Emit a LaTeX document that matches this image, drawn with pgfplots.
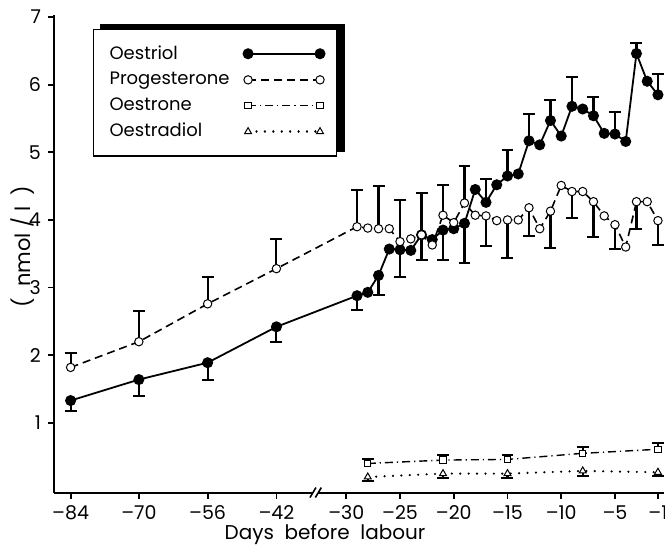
\documentclass[border=0pt]{standalone}
\usepackage{fontspec}
\setmainfont{Poppins}
\usepackage{pgfplots}
\pgfplotsset{compat=1.18}
\usetikzlibrary{calc,backgrounds}

% x is drawn on a broken axis: right part in days, left part compressed
% (-84 -> -55.65, -70 -> -49.3, -56 -> -42.9, -42 -> -36.5)
\pgfplotsset{
  ebar/.style={draw=none, mark=none, forget plot,
    error bars/.cd, y dir=#1, y explicit, error mark=|,
    error bar style={draw=black, solid, line width=1.05pt},
    error mark options={draw=black, solid, line width=1pt, mark size=3pt}},
}

\begin{document}
\begin{tikzpicture}
\begin{axis}[
  name=ax,
  scale only axis, width=305.5pt, height=239pt,
  xmin=-57.2, xmax=-0.4, ymin=-0.03, ymax=7.03,
  axis x line*=bottom, axis y line*=left,
  x axis line style={draw=none},
  y axis line style={line width=1pt},
  clip=false,
  xtick={-55.65,-49.3,-42.9,-36.5,-30,-25,-20,-15,-10,-5,-1},
  xticklabels={--84,--70,--56,--42,--30,--25,--20,--15,--10,--5,--1},
  ytick={1,2,3,4,5,6,7},
  /pgf/number format/assume math mode=true,
  tick align=outside, major tick length=3pt,
  tick style={black, line width=0.9pt},
  tick label style={font=\fontsize{9.5}{11}\selectfont},
  xlabel={Days\ \ before\ \ labour},
  ylabel={(\ \ nmol\ /\ l\ \ )},
  every axis x label/.style={at={(axis description cs:0.444,-0.088)}, anchor=center,
    font=\fontsize{10}{12}\selectfont},
  every axis y label/.style={at={(axis description cs:-0.052,0.515)}, rotate=90,
    anchor=center, font=\fontsize{10.5}{12}\selectfont},
  legend plot pos=right,
  legend cell align=left,
  legend image code/.code={\draw[#1] plot coordinates {(0pt,0pt) (36pt,0pt)};},
  legend style={name=leg, at={(axis description cs:0.064,0.971)}, anchor=north west,
    draw=black, line width=0.6pt, fill=white,
    font=\fontsize{9}{11}\selectfont,
    row sep=1pt, column sep=5pt, inner xsep=6pt, inner ysep=6pt},
]

% error bars: oestriol
\addplot[ebar=minus] coordinates {
  (-55.65,1.33) +- (0,0.16) (-49.3,1.64) +- (0,0.25) (-42.9,1.89) +- (0,0.26)
  (-36.5,2.42) +- (0,0.23) (-29,2.88) +- (0,0.21) (-27,3.18) +- (0,0.29)
  (-25,3.56) +- (0,0.41) (-23,3.78) +- (0,0.37) (-21,3.85) +- (0,0.44)
  (-19,3.95) +- (0,0.58)};
\addplot[ebar=plus] coordinates {
  (-17,4.26) +- (0,0.34) (-15,4.65) +- (0,0.38) (-13,5.17) +- (0,0.40)
  (-11,5.47) +- (0,0.30) (-9,5.68) +- (0,0.43) (-7,5.54) +- (0,0.28)
  (-5,5.27) +- (0,0.32) (-3,6.46) +- (0,0.16) (-1,5.85) +- (0,0.31)};
% error bars: progesterone
\addplot[ebar=plus] coordinates {
  (-55.65,1.82) +- (0,0.22) (-49.3,2.20) +- (0,0.46) (-42.9,2.76) +- (0,0.40)
  (-36.5,3.28) +- (0,0.44) (-29,3.90) +- (0,0.55) (-27,3.87) +- (0,0.63)
  (-25,3.68) +- (0,0.61) (-23,3.78) +- (0,0.62) (-21,4.07) +- (0,0.45)
  (-19,4.25) +- (0,0.55)};
\addplot[ebar=minus] coordinates {
  (-17,4.06) +- (0,0.44) (-15,4.00) +- (0,0.56) (-13,4.18) +- (0,0.42)
  (-11,4.13) +- (0,0.55) (-9,4.42) +- (0,0.39) (-7,4.27) +- (0,0.52)
  (-5,3.93) +- (0,0.36) (-3,4.27) +- (0,0.41) (-1,3.99) +- (0,0.36)};
% error bars: oestrone, oestradiol
\addplot[ebar=plus] coordinates {
  (-28,0.40) +- (0,0.07) (-21,0.45) +- (0,0.07) (-15,0.46) +- (0,0.07)
  (-8,0.55) +- (0,0.09) (-1,0.61) +- (0,0.09)};
\addplot[ebar=minus] coordinates {
  (-28,0.20) +- (0,0.06) (-21,0.25) +- (0,0.06) (-15,0.25) +- (0,0.06)
  (-8,0.29) +- (0,0.07) (-1,0.27) +- (0,0.06)};

\addplot[black, line width=0.9pt, mark=*, mark size=2.3pt,
  mark options={solid, fill=black}] coordinates {
  (-55.65,1.33) (-49.3,1.64) (-42.9,1.89) (-36.5,2.42) (-29,2.88) (-28,2.93)
  (-27,3.18) (-26,3.57) (-25,3.56) (-24,3.55) (-23,3.78) (-22,3.71) (-21,3.85)
  (-20,3.87) (-19,3.95) (-18,4.45) (-17,4.26) (-16,4.52) (-15,4.65) (-14,4.68)
  (-13,5.17) (-12,5.11) (-11,5.47) (-10,5.24) (-9,5.68) (-8,5.64) (-7,5.54)
  (-6,5.28) (-5,5.27) (-4,5.16) (-3,6.46) (-2,6.05) (-1,5.85)};
\addlegendentry{Oestriol}

\addplot[black, line width=0.8pt, dash pattern=on 4pt off 2.5pt, mark=*, mark size=2.1pt,
  mark options={solid, fill=white, line width=0.5pt}] coordinates {
  (-55.65,1.82) (-49.3,2.20) (-42.9,2.76) (-36.5,3.28) (-29,3.90) (-28,3.88)
  (-27,3.87) (-26,3.87) (-25,3.68) (-24,3.72) (-23,3.78) (-22,3.63) (-21,4.07)
  (-20,3.96) (-19,4.25) (-18,4.07) (-17,4.06) (-16,3.99) (-15,4.00) (-14,4.00)
  (-13,4.18) (-12,3.87) (-11,4.13) (-10,4.51) (-9,4.42) (-8,4.42) (-7,4.27)
  (-6,4.06) (-5,3.93) (-4,3.60) (-3,4.27) (-2,4.27) (-1,3.99)};
\addlegendentry{Progesterone}

\addplot[black, line width=0.7pt, dash pattern=on 4pt off 2pt on 0.6pt off 2pt,
  mark=square*, mark size=1.6pt, mark options={solid, fill=white, line width=0.5pt}]
  coordinates {(-28,0.40) (-21,0.45) (-15,0.46) (-8,0.55) (-1,0.61)};
\addlegendentry{Oestrone}

\addplot[black, line width=1.2pt, line cap=round, dash pattern=on 0.01pt off 4.2pt,
  mark=triangle*, mark size=2pt, mark options={solid, fill=white, line width=0.5pt}]
  coordinates {(-28,0.20) (-21,0.25) (-15,0.25) (-8,0.29) (-1,0.27)};
\addlegendentry{Oestradiol}

% broken x axis line
\draw[line width=1pt] (axis cs:-57.2,-0.03) -- (axis cs:-33.1,-0.03);
\draw[line width=1pt] (axis cs:-32.6,-0.03) -- (axis cs:-0.4,-0.03);
\draw[line width=0.8pt] ($(axis cs:-33.1,-0.03)+(-1.5pt,-2.5pt)$) -- ++(3pt,5pt);
\draw[line width=0.8pt] ($(axis cs:-32.6,-0.03)+(-1.5pt,-2.5pt)$) -- ++(3pt,5pt);
\end{axis}
% shadow of the legend box (offset up and right)
\begin{scope}[on background layer]
\fill[black] ($(leg.south west)+(3.5pt,2.5pt)$) rectangle ($(leg.north east)+(4pt,2.5pt)$);
\end{scope}
\pgfresetboundingbox
\path[use as bounding box] ($(ax.south west)+(-27pt,-27pt)$) rectangle ($(ax.north east)+(0.3pt,7.5pt)$);
\end{tikzpicture}
\end{document}
